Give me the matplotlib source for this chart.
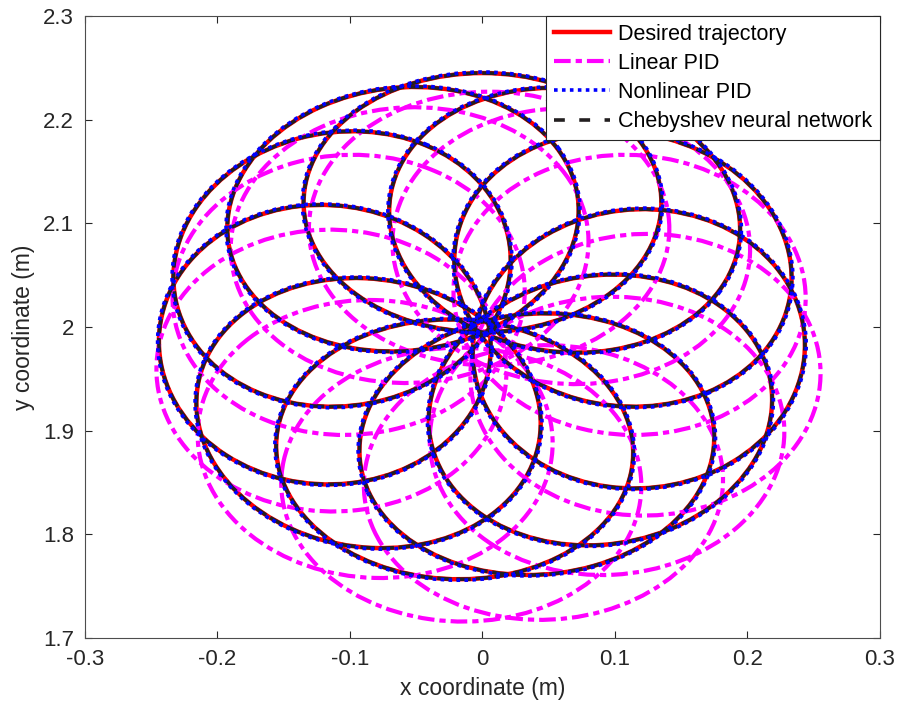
import matplotlib
matplotlib.use("Agg")
import matplotlib.pyplot as plt
from matplotlib.patches import Ellipse
from matplotlib.lines import Line2D

plt.rcParams['font.family'] = ['Liberation Sans', 'DejaVu Sans']

# petals of the rose trajectory: centre (x, y), radial length, width, direction (deg)
desired_cx = [0.106, 0.062, 0.000, -0.060, -0.106, -0.119, -0.086, -0.021, 0.041, 0.089, 0.118]
desired_cy = [2.056, 2.103, 2.120, 2.104, 2.056, 1.983, 1.917, 1.882, 1.887, 1.920, 1.979]
desired_len = [0.250] * 11
desired_wid = [0.270] * 11
desired_ang = [28, 59, 90, 120, 152, 188, 224, 260, 290, 318, 350]

# linear PID petals drift down and grow
lpid_cx = [0.111, 0.067, 0.005, -0.055, -0.101, -0.114, -0.081, -0.016, 0.046, 0.094, 0.123]
lpid_cy = [2.031, 2.078, 2.095, 2.079, 2.031, 1.958, 1.892, 1.848, 1.850, 1.895, 1.954]
lpid_len = [0.264] * 11
lpid_wid = [0.272] * 11
lpid_ang = [28, 59, 90, 120, 152, 188, 224, 260, 290, 318, 350]

# nonlinear PID and Chebyshev network stay on the reference
npid_len = [0.252] * 11
npid_wid = [0.272] * 11
cheb_len = [0.250] * 11
cheb_wid = [0.270] * 11

labels = ["Desired trajectory", "Linear PID", "Nonlinear PID", "Chebyshev neural network"]

fig = plt.figure(figsize=(9.01, 7.22), dpi=100)
ax = fig.add_axes([0.0943, 0.1163, 0.8824, 0.8615])


def petals(cx, cy, ln, wd, an, **kw):
    for i in range(len(cx)):
        ax.add_patch(Ellipse((cx[i], cy[i]), ln[i], wd[i], angle=an[i],
                             fill=False, **kw))


red_kw = dict(color="red", linewidth=3.2)
mag_kw = dict(color="magenta", linewidth=3.0, linestyle=(0, (4, 1.2, 1.5, 1.2)))
blu_kw = dict(color="blue", linewidth=2.6, linestyle=(0, (1, 1.2)))
blk_kw = dict(color="#231f20", linewidth=2.6, linestyle=(0, (4, 1.3)))

petals(desired_cx, desired_cy, desired_len, desired_wid, desired_ang,
       edgecolor=red_kw["color"], linewidth=red_kw["linewidth"], zorder=2)
petals(lpid_cx, lpid_cy, lpid_len, lpid_wid, lpid_ang,
       edgecolor=mag_kw["color"], linewidth=mag_kw["linewidth"],
       linestyle=mag_kw["linestyle"], zorder=3)
petals(desired_cx, desired_cy, cheb_len, cheb_wid, desired_ang,
       edgecolor=blk_kw["color"], linewidth=blk_kw["linewidth"],
       linestyle=blk_kw["linestyle"], zorder=4)
petals(desired_cx, desired_cy, npid_len, npid_wid, desired_ang,
       edgecolor=blu_kw["color"], linewidth=blu_kw["linewidth"],
       linestyle=blu_kw["linestyle"], zorder=5)

ax.set_xlim(-0.3, 0.3)
ax.set_ylim(1.7, 2.3)
ax.set_xticks([-0.3, -0.2, -0.1, 0, 0.1, 0.2, 0.3])
ax.set_xticklabels(["-0.3", "-0.2", "-0.1", "0", "0.1", "0.2", "0.3"])
ax.set_yticks([1.7, 1.8, 1.9, 2.0, 2.1, 2.2, 2.3])
ax.set_yticklabels(["1.7", "1.8", "1.9", "2", "2.1", "2.2", "2.3"])
ax.tick_params(direction="in", top=True, right=True, labelsize=16, pad=8,
               colors="#262626", length=5, width=0.8)
for s in ax.spines.values():
    s.set_color("#4d4d4d")
    s.set_linewidth(0.8)
ax.set_xlabel("x coordinate (m)", fontsize=16.5, color="#262626", labelpad=5)
ax.set_ylabel("y coordinate (m)", fontsize=16.5, color="#262626", labelpad=6)

handles = [
    Line2D([], [], **red_kw),
    Line2D([], [], **mag_kw),
    Line2D([], [], **blu_kw),
    Line2D([], [], color="#231f20", linewidth=2.6, linestyle=(0, (3, 4))),
]
leg = ax.legend(handles, labels, loc="upper right", fontsize=15.5, handlelength=2.6,
                borderaxespad=0, fancybox=False, framealpha=1, edgecolor="#262626",
                borderpad=0.35, labelspacing=0.38, handletextpad=0.4)
leg.get_frame().set_linewidth(0.8)
leg.set_zorder(10)

fig.savefig("out.png", dpi=100)
